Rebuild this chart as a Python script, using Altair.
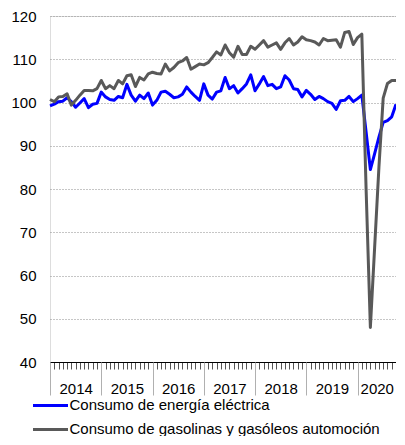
import altair as alt
import pandas as pd

# Month index: 0 = Jan 2014 ... 81 = Oct 2020
month_index = list(range(82))

elec = [
    99.2, 99.6, 100.2, 100.3, 101.1, 100.2, 98.9, 99.9, 100.9, 98.8, 99.6, 99.8,
    102.4, 101.3, 100.7, 100.5, 101.4, 101.1, 104.2, 101.7, 100.3, 101.7, 100.9, 102.2,
    99.4, 100.5, 102.4, 102.6, 101.9, 101.1, 101.3, 101.9, 103.6, 102.4, 101.4, 100.5,
    104.3, 101.7, 100.8, 102.4, 102.7, 105.8, 103.2, 103.9, 102.2, 103.2, 104.3, 106.4,
    102.7, 104.3, 106.0, 103.9, 104.2, 103.2, 103.6, 106.2, 105.2, 103.2, 103.0, 101.3,
    102.8, 101.9, 100.7, 101.4, 100.9, 100.2, 99.8, 98.4, 100.4, 100.5, 101.4, 100.2,
    100.9, 101.7, 93.2, 84.5, 88.2, 92.0, 95.4, 95.8, 96.7, 99.6,
]

gas = [
    100.7, 100.2, 101.3, 101.4, 102.0, 99.4, 100.5, 101.7, 102.8, 102.8, 102.7, 103.2,
    105.1, 103.2, 103.9, 103.2, 105.1, 104.3, 106.2, 106.4, 103.7, 105.8, 105.2, 106.6,
    107.0, 106.7, 106.6, 108.9, 107.3, 108.1, 109.2, 109.6, 110.4, 107.7, 108.3, 108.9,
    108.7, 109.2, 110.4, 111.7, 111.0, 113.3, 111.5, 110.5, 113.0, 111.1, 111.1, 113.0,
    112.3, 113.3, 114.3, 112.8, 113.3, 113.8, 112.3, 113.8, 114.8, 113.3, 114.0, 115.2,
    114.5, 114.3, 114.0, 113.3, 114.8, 114.3, 114.4, 114.5, 112.8, 116.2, 116.4, 113.4,
    115.0, 115.8, 80.0, 48.0, 66.5, 85.0, 101.0, 104.4, 105.1, 105.1,
]

series_names = [
    "Consumo de energía eléctrica",
    "Consumo de gasolinas y gasóleos automoción",
]
series_colors = ["#0000ff", "#595959"]

year_tick_values = [0, 12, 24, 36, 48, 60, 72, 81]
year_label_values = [6, 18, 30, 42, 54, 66, 76.5]
y_ticks = [40, 50, 60, 70, 80, 90, 100, 110, 120]

df = pd.DataFrame({
    "i": month_index + month_index,
    "v": elec + gas,
    "s": [series_names[0]] * len(elec) + [series_names[1]] * len(gas),
})

FONT = "Liberation Sans"

xscale = alt.Scale(domain=[0, 81], nice=False, zero=False)
yscale = alt.Scale(domain=[40, 120], nice=False, zero=False)

yaxis = alt.Axis(
    values=y_ticks, grid=True, gridDash=[1, 2], gridColor="#8c8c8c", gridWidth=1,
    domain=False, ticks=False, labelFontSize=15, labelPadding=14,
    labelColor="#000000", labelFont=FONT, title=None,
)

axis_months = alt.Axis(
    orient="bottom", values=month_index, labels=False, tickSize=7,
    tickColor="#555555", tickWidth=1, domain=True, domainColor="#000000",
    domainWidth=1, grid=False, title=None,
)
axis_years = alt.Axis(
    orient="bottom", values=year_tick_values, labels=False, tickSize=33,
    tickColor="#b0b0b0", tickWidth=1, domain=False, grid=False, title=None,
)
axis_labels = alt.Axis(
    orient="bottom", values=year_label_values, ticks=False, tickSize=0,
    domain=False, grid=False, title=None,
    labelExpr="'' + (2014 + floor(datum.value / 12))",
    labelFontSize=15, labelPadding=19, labelColor="#000000", labelFont=FONT,
    labelFlush=False, labelOverlap=False,
)

lines = alt.Chart(df).mark_line(strokeWidth=3, strokeJoin="round").encode(
    x=alt.X("i:Q", scale=xscale, axis=axis_months),
    y=alt.Y("v:Q", scale=yscale, axis=yaxis),
    color=alt.Color(
        "s:N",
        scale=alt.Scale(domain=series_names, range=series_colors),
        legend=alt.Legend(
            orient="none", legendX=-18.5, legendY=377.4, title=None,
            symbolType="stroke", symbolSize=1225, symbolStrokeWidth=3,
            labelFontSize=15, labelColor="#000000", labelFont=FONT,
            clipHeight=24, rowPadding=-2.4, labelOffset=0, padding=0,
            direction="vertical", labelLimit=0,
        ),
    ),
)

years = alt.Chart(df).mark_point(opacity=0).encode(
    x=alt.X("i:Q", scale=xscale, axis=axis_years),
    y=alt.Y("v:Q", scale=yscale, axis=yaxis),
)

year_labels = alt.Chart(df).mark_point(opacity=0).encode(
    x=alt.X("i:Q", scale=xscale, axis=axis_labels),
    y=alt.Y("v:Q", scale=yscale, axis=yaxis),
)

chart = alt.layer(lines, years, year_labels).resolve_axis(
    x="independent"
).properties(
    width=346,
    height=346,
    autosize=alt.AutoSizeParams(type="none"),
    padding={"left": 42, "top": 8, "right": 0, "bottom": 74},
).configure_view(strokeWidth=0).configure(font=FONT)

chart.save("out.html", embed_options={"renderer": "svg", "actions": False})
